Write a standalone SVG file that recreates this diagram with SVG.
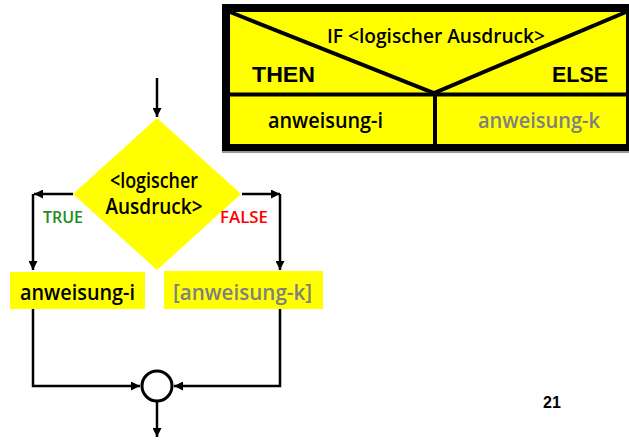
<svg xmlns="http://www.w3.org/2000/svg" width="629" height="440" viewBox="0 0 629 440">
<defs>
<style>
.r{font-family:"Open Sans","DejaVu Sans",sans-serif;font-weight:600}
.a{font-family:"Liberation Sans",Arial,sans-serif;font-weight:bold}
.ln{stroke:#000;stroke-width:2.5;fill:none}
.thick{stroke:#000;stroke-width:4;fill:none}
</style>
<marker id="ah" viewBox="0 0 10 10" refX="10" refY="5" markerWidth="3.6" markerHeight="3.6" orient="auto" markerUnits="strokeWidth">
<path d="M0,0 L10,5 L0,10 z" fill="#000"/>
</marker>
</defs>
<rect width="629" height="440" fill="#fff"/>

<g id="struktogramm">
<rect x="222" y="5" width="414" height="148" fill="#9a9a9a"/>
<rect x="222" y="4" width="414" height="147" fill="#000"/>
<rect x="230" y="12" width="396" height="132" fill="#ffff00"/>
<polyline class="thick" points="230,12 434,93 626,12"/>
<line class="thick" x1="230" y1="94.5" x2="626" y2="94.5"/>
<line class="thick" x1="435" y1="94.5" x2="435" y2="144"/>
<text class="r" x="436" y="43" font-size="19" text-anchor="middle" textLength="218" lengthAdjust="spacingAndGlyphs">IF &lt;logischer Ausdruck&gt;</text>
<text class="a" x="252" y="82" font-size="22" textLength="63" lengthAdjust="spacingAndGlyphs">THEN</text>
<text class="a" x="552" y="82" font-size="22" textLength="56" lengthAdjust="spacingAndGlyphs">ELSE</text>
<text class="r" x="268" y="128" font-size="21" textLength="115" lengthAdjust="spacingAndGlyphs">anweisung-i</text>
<text class="r" x="478" y="128" font-size="21" fill="#808080" textLength="122" lengthAdjust="spacingAndGlyphs">anweisung-k</text>
</g>

<g id="connectors">
<line class="ln" x1="157" y1="78" x2="157" y2="117" marker-end="url(#ah)"/>
<polyline class="ln" points="73,194 34,194" marker-end="url(#ah)"/>
<polyline class="ln" points="33,194 33,270" marker-end="url(#ah)"/>
<polyline class="ln" points="242,194 280,194" marker-end="url(#ah)"/>
<polyline class="ln" points="280,194 280,270" marker-end="url(#ah)"/>
<polyline class="ln" points="33,309 33,386 140,386" marker-end="url(#ah)"/>
<polyline class="ln" points="280,309 280,386 174,386" marker-end="url(#ah)"/>
<line class="ln" x1="157" y1="402" x2="157" y2="437" marker-end="url(#ah)"/>
</g>

<g id="decision">
<polygon points="157,118 241,194 157,270 73,194" fill="#ffff00"/>
<text class="r" x="154" y="188" font-size="21" text-anchor="middle" textLength="88" lengthAdjust="spacingAndGlyphs">&lt;logischer</text>
<text class="r" x="154" y="214" font-size="21" text-anchor="middle" textLength="97" lengthAdjust="spacingAndGlyphs">Ausdruck&gt;</text>
</g>

<g id="labels">
<text class="r" x="43" y="223" font-size="17" fill="#228b22" font-weight="400" textLength="40" lengthAdjust="spacingAndGlyphs">TRUE</text>
<text class="r" x="220" y="223" font-size="17" fill="#ff0000" font-weight="400" textLength="48" lengthAdjust="spacingAndGlyphs">FALSE</text>
</g>

<g id="then-box">
<rect x="10" y="272" width="135" height="37" fill="#ffff00"/>
<text class="r" x="20" y="300" font-size="22" textLength="115" lengthAdjust="spacingAndGlyphs">anweisung-i</text>
</g>

<g id="else-box">
<rect x="164" y="271" width="159" height="38" fill="#ffff00"/>
<text class="r" x="173" y="300" font-size="22" fill="#808080" textLength="139" lengthAdjust="spacingAndGlyphs">[anweisung-k]</text>
</g>

<g id="join">
<circle cx="157" cy="386" r="15" fill="#fff" stroke="#000" stroke-width="3"/>
</g>

<text class="a" x="543" y="408" font-size="16">21</text>
</svg>
